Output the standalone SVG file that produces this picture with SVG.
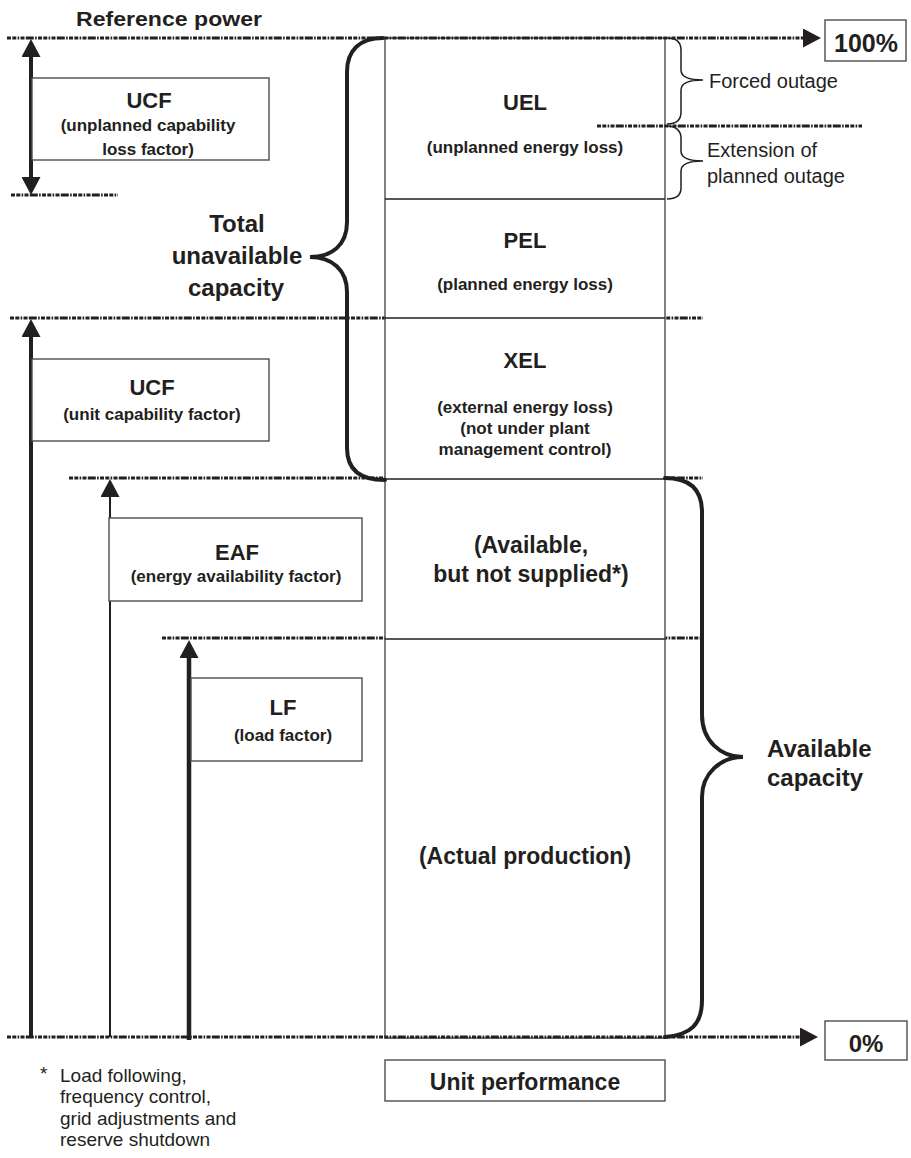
<svg xmlns="http://www.w3.org/2000/svg" width="911" height="1158" viewBox="0 0 911 1158">
  <style>
    .t { font-family: "Liberation Sans", Arial, sans-serif; fill: #231f20; }
    .b { font-weight: bold; }
    .m { text-anchor: middle; }
    .s17 { font-size: 17px; }
    .s22 { font-size: 22px; }
    .s24 { font-size: 24px; }
    .box { fill: #fff; stroke: #4d4d4f; stroke-width: 1.4; }
    .div { stroke: #231f20; stroke-width: 1.6; fill: none; }
    .dot { stroke: #231f20; stroke-width: 2.8; fill: none; stroke-dasharray: 4 1.3 4 1.3 1.6 1.3 4 1.3 8 1.3 1.6 1.3; }
    .brace { stroke: #231f20; stroke-width: 4; fill: none; stroke-linecap: round; }
    .brace-thin { stroke: #231f20; stroke-width: 1.5; fill: none; }
    .shaft { stroke: #231f20; fill: none; }
  </style>
  <defs>
    <marker id="head" viewBox="0 0 18 19" refX="0" refY="9.5" markerWidth="18" markerHeight="19" markerUnits="userSpaceOnUse" orient="auto-start-reverse">
      <path d="M0,0 L18,9.5 L0,19 Z" fill="#231f20"/>
    </marker>
  </defs>

  <!-- level lines hidden behind the column -->
  <g id="levels-back">
    <line class="dot" x1="10" y1="318" x2="703" y2="318"/>
    <line class="dot" x1="69" y1="478" x2="703" y2="478"/>
    <line class="dot" x1="162" y1="638" x2="701" y2="638"/>
    <line class="dot" x1="11" y1="195" x2="118" y2="195"/>
  </g>

  <!-- performance column -->
  <g id="column">
    <rect class="box" x="385" y="38" width="280" height="1000" stroke-width="1.6"/>
    <line class="div" x1="385" y1="199" x2="665" y2="199"/>
    <line class="div" x1="385" y1="318" x2="665" y2="318"/>
    <line class="div" x1="385" y1="479" x2="665" y2="479"/>
    <line class="div" x1="385" y1="639" x2="665" y2="639"/>
  </g>

  <g id="uel">
    <text class="t b m s22" x="525" y="110">UEL</text>
    <text class="t b m s17" x="525" y="153">(unplanned energy loss)</text>
  </g>
  <g id="pel">
    <text class="t b m s22" x="525" y="248">PEL</text>
    <text class="t b m s17" x="525" y="290">(planned energy loss)</text>
  </g>
  <g id="xel">
    <text class="t b m s22" x="525" y="368">XEL</text>
    <text class="t b m s17" x="525" y="413">(external energy loss)</text>
    <text class="t b m s17" x="525" y="434">(not under plant</text>
    <text class="t b m s17" x="525" y="455">management control)</text>
  </g>
  <g id="available-not-supplied">
    <text class="t b m" font-size="23" x="531" y="553">(Available,</text>
    <text class="t b m" font-size="23" x="531" y="582">but not supplied*)</text>
  </g>
  <g id="actual-production">
    <text class="t b m" font-size="23" x="525" y="864">(Actual production)</text>
  </g>

  <!-- forced outage split line -->
  <g id="forced-split">
    <line class="dot" x1="597" y1="126" x2="862" y2="126"/>
  </g>

  <!-- reference and zero levels, factor arrows -->
  <g id="connectors">
    <line class="dot" x1="7" y1="38" x2="803" y2="38" marker-end="url(#head)"/>
    <line class="dot" x1="7" y1="1037" x2="800" y2="1037" marker-end="url(#head)"/>
    <line class="shaft" stroke-width="4" x1="31" y1="57" x2="31" y2="177" marker-start="url(#head)" marker-end="url(#head)"/>
    <line class="shaft" stroke-width="4" x1="31" y1="1037" x2="31" y2="337" marker-end="url(#head)"/>
    <line class="shaft" stroke-width="2" x1="110" y1="1037" x2="110" y2="497" marker-end="url(#head)"/>
    <line class="shaft" stroke-width="4.5" x1="189" y1="1040" x2="189" y2="658" marker-end="url(#head)"/>
  </g>

  <!-- braces -->
  <g id="brace-unavailable">
    <path class="brace" d="M383,38 C360,38 347,50 347,72 L347,222 C347,245 332,257 310,257 C332,257 347,270 347,292 L347,448 C347,470 360,480 385,480"/>
  </g>
  <g id="brace-available">
    <path class="brace" d="M665,478 C690,478 702,490 702,512 L702,715 C702,740 720,757 743,757 C720,757 702,774 702,797 L702,1000 C702,1025 690,1035 665,1037"/>
  </g>
  <g id="brace-forced">
    <path class="brace-thin" d="M667,38 C676,38 681,42 681,50 L681,70 C681,77 690,80 703,80 C690,80 681,83 681,90 L681,112 C681,120 676,124 667,124"/>
  </g>
  <g id="brace-extension">
    <path class="brace-thin" d="M667,126 C676,126 681,131 681,138 L681,151 C681,158 690,161 703,161 C690,161 681,164 681,171 L681,188 C681,195 676,199 667,199"/>
  </g>

  <g id="reference-power">
    <text class="t b" font-size="21" x="76" y="26" textLength="186" lengthAdjust="spacingAndGlyphs">Reference power</text>
  </g>
  <g id="pct-100">
    <rect class="box" x="825" y="20" width="81" height="41" stroke="#231f20" stroke-width="1.6"/>
    <text class="t b m" font-size="25" x="866" y="52">100%</text>
  </g>
  <g id="pct-0">
    <rect class="box" x="825" y="1021" width="82" height="39" stroke="#231f20" stroke-width="1.6"/>
    <text class="t b m s24" x="866" y="1052">0%</text>
  </g>

  <g id="ucf-loss">
    <rect class="box" x="32" y="78" width="237" height="82"/>
    <text class="t b m s22" x="149" y="108">UCF</text>
    <text class="t b m s17" x="148" y="131">(unplanned capability</text>
    <text class="t b m s17" x="148" y="155">loss factor)</text>
  </g>
  <g id="total-unavailable">
    <text class="t b m s24" x="237" y="232">Total</text>
    <text class="t b m s24" x="237" y="264">unavailable</text>
    <text class="t b m s24" x="236" y="296">capacity</text>
  </g>
  <g id="ucf">
    <rect class="box" x="32" y="359" width="237" height="82"/>
    <text class="t b m s22" x="152" y="395">UCF</text>
    <text class="t b m s17" x="152" y="420">(unit capability factor)</text>
  </g>
  <g id="eaf">
    <rect class="box" x="109" y="518" width="253" height="83"/>
    <text class="t b m s22" x="237" y="560">EAF</text>
    <text class="t b m s17" x="236" y="582">(energy availability factor)</text>
  </g>
  <g id="lf">
    <rect class="box" x="191" y="678" width="171" height="83"/>
    <text class="t b m s22" x="283" y="715">LF</text>
    <text class="t b m s17" x="283" y="741">(load factor)</text>
  </g>

  <g id="forced-outage">
    <text class="t" font-size="20" x="709" y="88">Forced outage</text>
  </g>
  <g id="extension">
    <text class="t" font-size="20" x="707" y="157">Extension of</text>
    <text class="t" font-size="20" x="707" y="183">planned outage</text>
  </g>
  <g id="available-capacity">
    <text class="t b s24" x="767" y="757">Available</text>
    <text class="t b s24" x="767" y="786">capacity</text>
  </g>

  <g id="unit-performance">
    <rect class="box" x="385" y="1060" width="280" height="41" stroke="#231f20"/>
    <text class="t b m" font-size="23" x="525" y="1090">Unit performance</text>
  </g>

  <g id="footnote">
    <text class="t" font-size="19" x="40" y="1080">*</text>
    <text class="t" font-size="19" x="60" y="1082">Load following,</text>
    <text class="t" font-size="19" x="60" y="1103">frequency control,</text>
    <text class="t" font-size="19" x="60" y="1125">grid adjustments and</text>
    <text class="t" font-size="19" x="60" y="1146">reserve shutdown</text>
  </g>
</svg>
